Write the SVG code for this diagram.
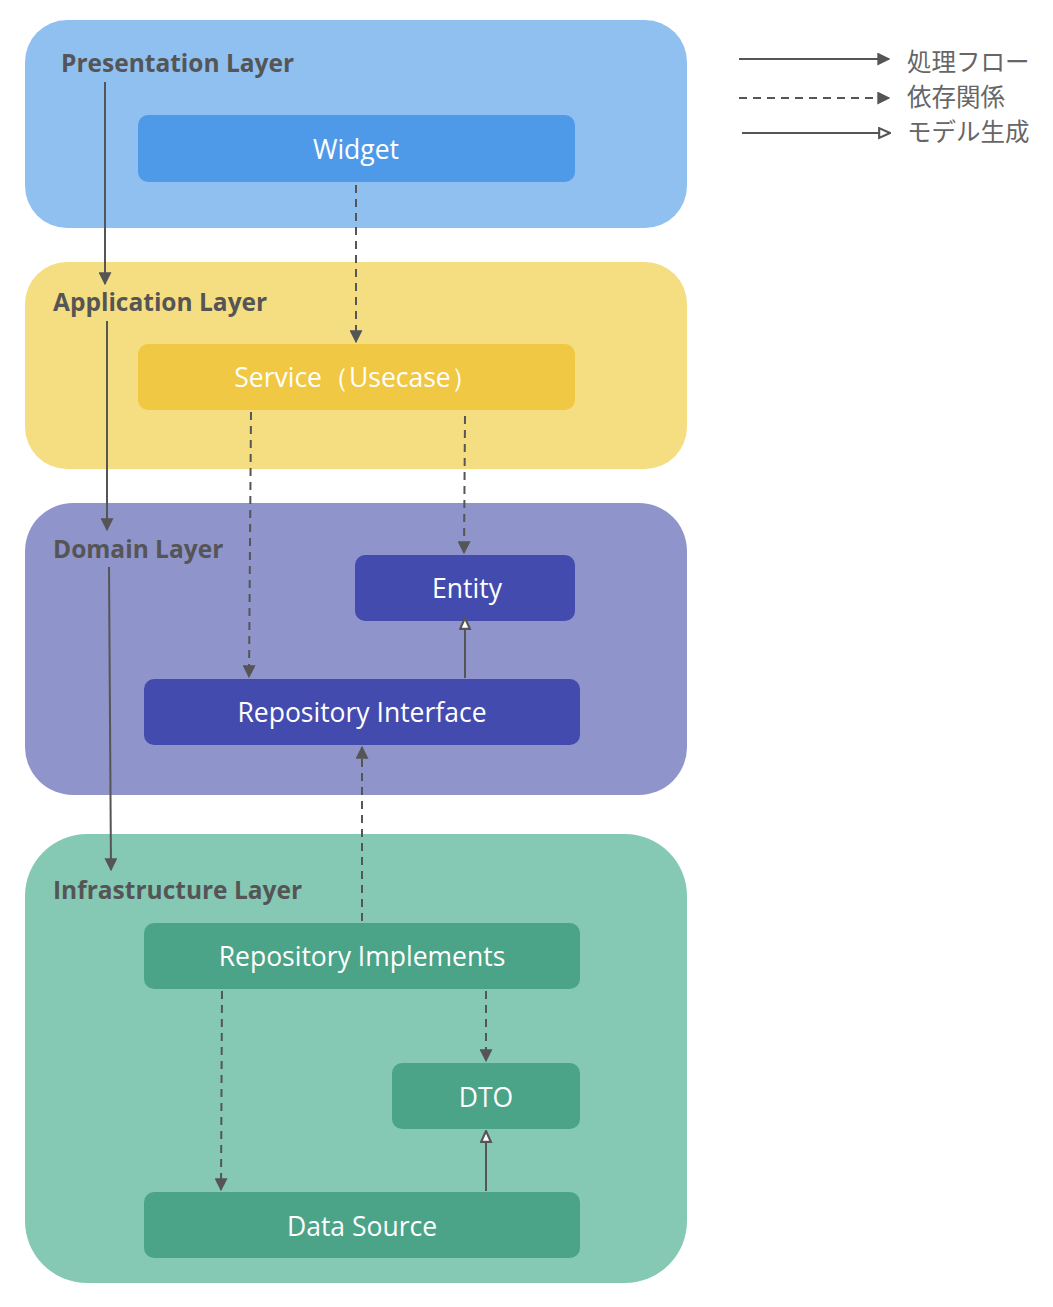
<svg xmlns="http://www.w3.org/2000/svg" width="1053" height="1307" viewBox="0 0 1053 1307">
<style>
.title{font-family:"Open Sans","Noto Sans",sans-serif;font-weight:700;font-size:24.5px;fill:#555555}
.lbl{font-family:"Open Sans","Noto Sans",sans-serif;font-size:26.5px;fill:#ffffff;text-anchor:middle;dominant-baseline:central}
.leg{font-family:"Noto Sans CJK JP","Noto Sans",sans-serif;font-size:24.5px;fill:#666666}
.flow{stroke:#555555;stroke-width:2;fill:none}
.dep{stroke:#555555;stroke-width:2;fill:none;stroke-dasharray:8 6}
</style>
<defs>
<marker id="arr" viewBox="0 0 10 10" refX="9" refY="5" markerWidth="6.5" markerHeight="6.5" orient="auto" markerUnits="strokeWidth">
<path d="M0,0 L10,5 L0,10 Z" fill="#555555"/>
</marker>
<marker id="tri" viewBox="0 0 12 12" refX="11" refY="6" markerWidth="6.5" markerHeight="6.5" orient="auto" markerUnits="strokeWidth">
<path d="M1,1.5 L11,6 L1,10.5 Z" fill="#ffffff" stroke="#555555" stroke-width="2"/>
</marker>
</defs>
<rect width="1053" height="1307" fill="#ffffff"/>
<g id="presentation-layer">
<rect x="25" y="20" width="662" height="208" rx="42" fill="#90C0F0"/>
<text class="title" x="61" y="72">Presentation Layer</text>
</g>
<g id="application-layer">
<rect x="25" y="262" width="662" height="207" rx="42" fill="#F5DE82"/>
<text class="title" x="53" y="311">Application Layer</text>
</g>
<g id="domain-layer">
<rect x="25" y="503" width="662" height="292" rx="48" fill="#8F94CB"/>
<text class="title" x="53" y="558">Domain Layer</text>
</g>
<g id="infrastructure-layer">
<rect x="25" y="834" width="662" height="449" rx="62" fill="#85C9B5"/>
<text class="title" x="53" y="899">Infrastructure Layer</text>
</g>
<g id="widget">
<rect x="138" y="115" width="437" height="67" rx="10" fill="#4F9AE8"/>
<text class="lbl" x="356" y="149">Widget</text>
</g>
<g id="service">
<rect x="138" y="344" width="437" height="66" rx="10" fill="#F0C843"/>
<text class="lbl" x="356" y="377">Service（Usecase）</text>
</g>
<g id="entity">
<rect x="355" y="555" width="220" height="66" rx="10" fill="#434BAF"/>
<text class="lbl" x="467" y="588">Entity</text>
</g>
<g id="repository-interface">
<rect x="144" y="679" width="436" height="66" rx="10" fill="#434BAF"/>
<text class="lbl" x="362" y="712">Repository Interface</text>
</g>
<g id="repository-implements">
<rect x="144" y="923" width="436" height="66" rx="10" fill="#4BA488"/>
<text class="lbl" x="362" y="956">Repository Implements</text>
</g>
<g id="dto">
<rect x="392" y="1063" width="188" height="66" rx="10" fill="#4BA488"/>
<text class="lbl" x="486" y="1097">DTO</text>
</g>
<g id="data-source">
<rect x="144" y="1192" width="436" height="66" rx="10" fill="#4BA488"/>
<text class="lbl" x="362" y="1226">Data Source</text>
</g>
<g id="connectors">
<path class="flow" d="M105,82 L105,284" marker-end="url(#arr)"/>
<path class="flow" d="M107,321 L107,530" marker-end="url(#arr)"/>
<path class="flow" d="M109,567 L111,870" marker-end="url(#arr)"/>
<path class="dep" d="M356,185 L356,342" marker-end="url(#arr)"/>
<path class="dep" d="M251,412 L249,677" marker-end="url(#arr)"/>
<path class="dep" d="M465,416 L464,553" marker-end="url(#arr)"/>
<path class="dep" d="M362,921 L362,747" marker-end="url(#arr)"/>
<path class="dep" d="M486,991 L486,1061" marker-end="url(#arr)"/>
<path class="dep" d="M222,991 L221,1190" marker-end="url(#arr)"/>
<path class="flow" d="M465,678 L465,618" marker-end="url(#tri)"/>
<path class="flow" d="M486,1191 L486,1131" marker-end="url(#tri)"/>
</g>
<g id="legend">
<path class="flow" d="M739,59 L889,59" marker-end="url(#arr)"/>
<text class="leg" x="907" y="71">処理フロー</text>
<path class="dep" d="M739,98 L889,98" marker-end="url(#arr)"/>
<text class="leg" x="907" y="106">依存関係</text>
<path class="flow" d="M742,133 L890,133" marker-end="url(#tri)"/>
<text class="leg" x="907" y="141">モデル生成</text>
</g>
</svg>
